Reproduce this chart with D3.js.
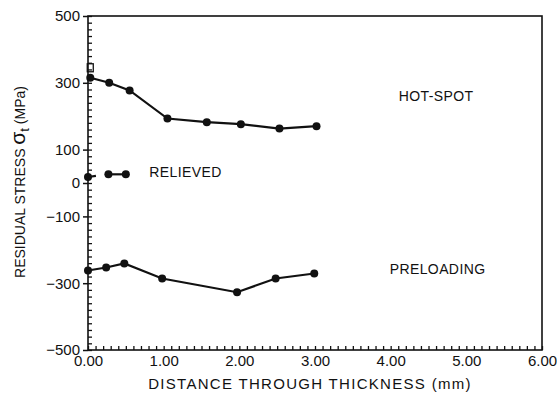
<!DOCTYPE html>
<html lang="en">
<head>
  <meta charset="UTF-8">
  <title>Residual Stress Through Thickness</title>
  <script src="https://d3js.org/d3.v7.min.js"></script>
  <style>
    body { margin: 0; background: #fff; }
    svg text { font-family: "Liberation Sans", Arial, sans-serif; fill: #111; }
    .tick-label { font-size: 15px; }
    .axis-title { font-size: 15px; letter-spacing: 1.3px; }
    .y-title { font-size: 14px; }
    .series-label { font-size: 14px; letter-spacing: 0.4px; }
  </style>
</head>
<body>
  <div id="chart"></div>
  <script>
    // Data (distance in mm, stress in MPa)
    const hotSpotX = [0.03, 0.28, 0.55, 1.05, 1.57, 2.02, 2.53, 3.02];
    const hotSpotY = [315, 300, 277, 193, 182, 176, 163, 170];
    const hotSpotExtra = { x: 0.03, y: 345 };

    const relievedX = [0.0, 0.27, 0.5];
    const relievedY = [18, 26, 26];

    const preloadX = [0.0, 0.24, 0.48, 0.98, 1.97, 2.48, 2.99];
    const preloadY = [-262, -253, -241, -286, -327, -286, -271];

    const xTicks = [0, 1, 2, 3, 4, 5, 6];
    const yTicks = [500, 300, 100, 0, -100, -300, -500];

    const width = 557, height = 406;
    const margin = { top: 16, right: 15, bottom: 56, left: 88 };
    const innerW = width - margin.left - margin.right;
    const innerH = height - margin.top - margin.bottom;

    const svg = d3.select("#chart")
      .append("svg")
      .attr("width", width)
      .attr("height", height);

    const g = svg.append("g")
      .attr("transform", `translate(${margin.left},${margin.top})`);

    const x = d3.scaleLinear().domain([0, 6]).range([0, innerW]);
    const y = d3.scaleLinear().domain([-500, 500]).range([innerH, 0]);

    // frame
    g.append("rect")
      .attr("width", innerW)
      .attr("height", innerH)
      .attr("fill", "none")
      .attr("stroke", "#111")
      .attr("stroke-width", 1.6);

    // minor ticks (inward)
    g.append("g")
      .call(d3.axisRight(y).tickValues(d3.range(-500, 501, 20)).tickSize(4).tickFormat(""))
      .call(a => a.select(".domain").remove())
      .selectAll("line").attr("stroke", "#111").attr("stroke-width", 1.3);

    g.append("g")
      .attr("transform", `translate(0,${innerH})`)
      .call(d3.axisTop(x).tickValues(d3.range(0, 60.1, 1).map(d => d / 10)).tickSize(4).tickFormat(""))
      .call(a => a.select(".domain").remove())
      .selectAll("line").attr("stroke", "#111").attr("stroke-width", 1.3);

    // major ticks + labels
    const yAxis = g.append("g")
      .call(d3.axisLeft(y).tickValues(yTicks).tickSize(5).tickPadding(3)
        .tickFormat(d => d < 0 ? "\u2212" + Math.abs(d) : d));
    yAxis.select(".domain").remove();
    yAxis.selectAll("line").attr("stroke", "#111").attr("stroke-width", 1.5);
    yAxis.selectAll("text").attr("class", "tick-label").attr("font-size", null).attr("font-family", null);

    const xAxis = g.append("g")
      .attr("transform", `translate(0,${innerH})`)
      .call(d3.axisBottom(x).tickValues(xTicks).tickSize(0).tickPadding(5)
        .tickFormat(d3.format(".2f")));
    xAxis.select(".domain").remove();
    xAxis.selectAll("text").attr("class", "tick-label").attr("font-size", null).attr("font-family", null);

    // axis titles
    svg.append("text")
      .attr("class", "axis-title")
      .attr("x", 310)
      .attr("y", 389)
      .attr("text-anchor", "middle")
      .text("DISTANCE THROUGH THICKNESS (mm)");

    const yTitle = svg.append("text")
      .attr("class", "y-title")
      .attr("transform", "translate(25,182) rotate(-90)")
      .attr("text-anchor", "middle");
    yTitle.append("tspan").text("RESIDUAL STRESS ");
    yTitle.append("tspan").attr("font-size", 21).text("\u03c3");
    yTitle.append("tspan").attr("font-size", 13).attr("dy", 4).text("t");
    yTitle.append("tspan").attr("dy", -4).text(" (MPa)");

    const line = d3.line().x(d => x(d[0])).y(d => y(d[1]));

    function drawSeries(xs, ys, dashFirst) {
      const pts = xs.map((v, i) => [v, ys[i]]);
      if (dashFirst) {
        g.append("path")
          .attr("d", line(pts.slice(0, 2)))
          .attr("fill", "none").attr("stroke", "#111").attr("stroke-width", 2.2)
          .attr("stroke-dasharray", "8,9");
        g.append("path")
          .attr("d", line(pts.slice(1)))
          .attr("fill", "none").attr("stroke", "#111").attr("stroke-width", 2.2);
      } else {
        g.append("path")
          .attr("d", line(pts))
          .attr("fill", "none").attr("stroke", "#111").attr("stroke-width", 2.2);
      }
      g.append("g").selectAll("circle")
        .data(pts)
        .join("circle")
        .attr("cx", d => x(d[0]))
        .attr("cy", d => y(d[1]))
        .attr("r", 4)
        .attr("fill", "#111");
    }

    drawSeries(hotSpotX, hotSpotY, false);
    drawSeries(relievedX, relievedY, true);
    drawSeries(preloadX, preloadY, false);

    // small open marker above the first hot-spot point
    g.append("rect")
      .attr("x", x(hotSpotExtra.x) - 3)
      .attr("y", y(hotSpotExtra.y) - 4)
      .attr("width", 6)
      .attr("height", 8)
      .attr("fill", "none")
      .attr("stroke", "#111")
      .attr("stroke-width", 1.3);

    // series labels
    g.append("text").attr("class", "series-label")
      .attr("x", x(4.6)).attr("y", y(246)).attr("text-anchor", "middle").text("HOT-SPOT");
    g.append("text").attr("class", "series-label")
      .attr("x", x(0.81)).attr("y", y(18)).text("RELIEVED");
    g.append("text").attr("class", "series-label")
      .attr("x", x(4.62)).attr("y", y(-272)).attr("text-anchor", "middle").text("PRELOADING");
  </script>
</body>
</html>
